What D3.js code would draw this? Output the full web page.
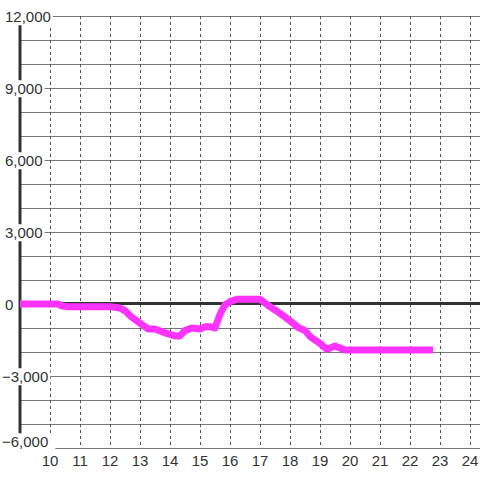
<!DOCTYPE html>
<html lang="en">

<head>
    <meta charset="UTF-8">
    <script src="https://cdn.jsdelivr.net/npm/d3@7"></script>
    <title>Chart</title>
</head>
<style>
    body {
        margin: 0;
        background: #fff;
    }

    text {
        font-family: "Liberation Sans", Arial, sans-serif;
        font-size: 15px;
        fill: #333;
    }
</style>

<body>

</body>
<script>
    // data
    var hours = [9, 10.27, 10.4, 10.57, 12.0, 12.33, 12.5, 12.73, 13.0, 13.27, 13.5, 13.83, 14.17, 14.33,
        14.5, 14.73, 15.0, 15.17, 15.33, 15.5, 15.67, 15.83, 16.0, 16.23, 17.0, 17.33, 17.67, 18.0,
        18.27, 18.5, 18.67, 19.0, 19.23, 19.5, 19.83, 22.77];
    var values = [0, 0, -80, -110, -110, -170, -280, -550, -800, -1040, -1040, -1200, -1330, -1330,
        -1110, -1000, -1040, -945, -945, -1000, -420, -40, 100, 200, 200, -110, -390, -700,
        -980, -1100, -1360, -1640, -1890, -1750, -1920, -1920];
    var xTicks = d3.range(10, 25);
    var yGrid = d3.range(-6000, 12001, 1000);
    var yLabels = [-6000, -3000, 0, 3000, 6000, 9000, 12000];

    var width = 480;
    var height = 480;
    var svg = d3.select("body").append("svg").attr("width", width).attr("height", height);

    var x = d3.scaleLinear().domain([9, 24 + 1 / 3]).range([20, 480]);
    var y = d3.scaleLinear().domain([-6000, 12000]).range([448, 16]);
    var fmt = d3.format(",");

    // horizontal grid
    svg.append("g").selectAll("line")
        .data(yGrid)
        .enter().append("line")
        .attr("x1", x.range()[0]).attr("x2", x.range()[1])
        .attr("y1", function(d) { return y(d) + 0.5; })
        .attr("y2", function(d) { return y(d) + 0.5; })
        .attr("stroke", "#777").attr("stroke-width", 1);

    // vertical dashed grid
    svg.append("g").selectAll("line")
        .data(xTicks)
        .enter().append("line")
        .attr("x1", function(d) { return Math.round(x(d)) + 0.5; })
        .attr("x2", function(d) { return Math.round(x(d)) + 0.5; })
        .attr("y1", y(12000)).attr("y2", y(-6000))
        .attr("stroke", "#555").attr("stroke-width", 1)
        .attr("stroke-dasharray", "3,3");

    // zero line and left axis
    svg.append("line")
        .attr("x1", x.range()[0]).attr("x2", x.range()[1])
        .attr("y1", y(0) - 0.5).attr("y2", y(0) - 0.5)
        .attr("stroke", "#333").attr("stroke-width", 3);
    svg.append("line")
        .attr("x1", x(9)).attr("x2", x(9))
        .attr("y1", y(12000)).attr("y2", y(-6000))
        .attr("stroke", "#333").attr("stroke-width", 3);

    // series
    var line = d3.line()
        .x(function(d) { return x(d[0]); })
        .y(function(d) { return y(d[1]); });
    svg.append("path")
        .datum(d3.zip(hours, values))
        .attr("d", line)
        .attr("fill", "none")
        .attr("stroke", "#ff33ff")
        .attr("stroke-width", 7)
        .attr("stroke-linejoin", "round")
        .attr("stroke-linecap", "butt");

    // y labels with white boxes over the grid
    var yl = svg.append("g").selectAll("g")
        .data(yLabels)
        .enter().append("g")
        .attr("transform", function(d) {
            var ty = d == -6000 ? y(d) - 6 : y(d) + 1;
            return "translate(" + (d < 0 ? 2 : 5) + "," + ty + ")";
        });
    yl.append("text")
        .attr("dy", "0.35em")
        .text(function(d) { return fmt(d); });
    yl.insert("rect", "text")
        .each(function(d) {
            var b = this.parentNode.querySelector("text").getBBox();
            d3.select(this)
                .attr("x", b.x - 2).attr("y", b.y)
                .attr("width", b.width + 4 + (d == -6000 ? 5 : 0))
                .attr("height", b.height + (d == -6000 ? 2 : 0));
        })
        .attr("fill", "#fff");

    // x labels
    svg.append("g").selectAll("text")
        .data(xTicks)
        .enter().append("text")
        .attr("x", function(d) { return x(d); })
        .attr("y", 461)
        .attr("dy", "0.35em")
        .attr("text-anchor", "middle")
        .text(function(d) { return d; });
</script>

</html>
